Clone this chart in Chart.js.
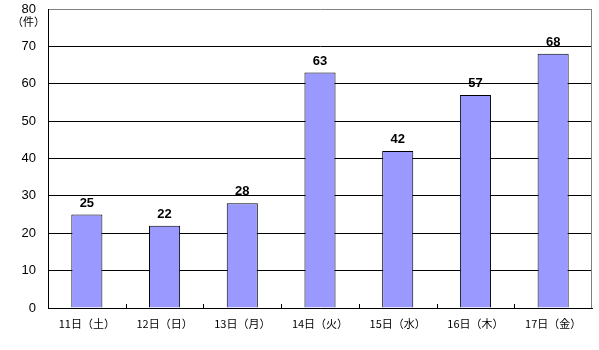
<!DOCTYPE html>
<html>
<head>
<meta charset="utf-8">
<script src="https://cdn.jsdelivr.net/npm/chart.js@4"></script>
<style>
  html, body { margin: 0; padding: 0; background: #fff; }
  #wrap { width: 599px; height: 350px; }
</style>
</head>
<body>
<div id="wrap"><canvas id="myChart" width="599" height="350"></canvas></div>
<script>
const days = ['11日（土）', '12日（日）', '13日（月）', '14日（火）', '15日（水）', '16日（木）', '17日（金）'];
const counts = [25, 22, 28, 63, 42, 57, 68];
const yMax = 80;
const yStep = 10;
const unitLabel = '（件）';

// labels over bars, inner ticks, right/top frame
const extras = {
  id: 'extras',
  afterDatasetsDraw(chart) {
    const ctx = chart.ctx;
    const area = chart.chartArea;
    const x = chart.scales.x;
    const y = chart.scales.y;
    ctx.save();
    // right border
    ctx.strokeStyle = '#808080';
    ctx.lineWidth = 1;
    ctx.beginPath();
    ctx.moveTo(Math.round(area.right) - 0.5, area.top);
    ctx.lineTo(Math.round(area.right) - 0.5, area.bottom);
    ctx.stroke();
    // small ticks between categories
    ctx.strokeStyle = '#000';
    for (let i = 0; i < days.length - 1; i++) {
      const px = Math.round((x.getPixelForValue(i) + x.getPixelForValue(i + 1)) / 2) + 0.5;
      ctx.beginPath();
      ctx.moveTo(px, area.bottom);
      ctx.lineTo(px, area.bottom - 4);
      ctx.stroke();
    }
    // value labels
    ctx.fillStyle = '#000';
    ctx.font = 'bold 13px "Liberation Sans", Arial, sans-serif';
    ctx.textAlign = 'center';
    ctx.textBaseline = 'bottom';
    const meta = chart.getDatasetMeta(0);
    meta.data.forEach((bar, i) => {
      ctx.fillText(String(counts[i]), bar.x, bar.y - 5);
    });
    // unit
    ctx.font = '11px "Noto Sans CJK JP", sans-serif';
    ctx.textAlign = 'right';
    ctx.textBaseline = 'middle';
    ctx.fillText(unitLabel, area.left - 3, y.getPixelForValue(yMax) + 13);
    ctx.restore();
  }
};

const ctx = document.getElementById('myChart').getContext('2d');
const myChart = new Chart(ctx, {
  type: 'bar',
  data: {
    labels: days,
    datasets: [{
      data: counts,
      backgroundColor: '#9999FF',
      borderColor: '#000',
      borderWidth: 1,
      borderSkipped: 'bottom',
      categoryPercentage: 1.0,
      barPercentage: 0.4
    }]
  },
  options: {
    responsive: false,
    animation: false,
    layout: { padding: { top: 9, right: 7, left: 0, bottom: 0 } },
    plugins: { legend: { display: false }, tooltip: { enabled: false } },
    scales: {
      x: {
        grid: { display: false, drawTicks: false },
        border: { display: true, color: '#000', width: 1 },
        ticks: {
          color: '#000',
          padding: 9,
          maxRotation: 0,
          autoSkip: false,
          font: { size: 11, family: '"Noto Sans CJK JP", sans-serif' }
        },
        afterFit(scale) { scale.height = 42; scale.paddingLeft = 0; scale.paddingRight = 0; }
      },
      y: {
        min: 0,
        max: yMax,
        ticks: {
          stepSize: yStep,
          color: '#000',
          padding: 12,
          font: { size: 13, family: '"Liberation Sans", Arial, sans-serif' }
        },
        grid: {
          drawTicks: false,
          color: c => (c.tick && c.tick.value === yMax ? '#808080' : '#000'),
          lineWidth: 1
        },
        border: { display: true, color: '#000', width: 1 },
        afterFit(scale) { scale.width = 48; scale.paddingTop = 0; scale.paddingBottom = 0; }
      }
    }
  },
  plugins: [extras]
});
</script>
</body>
</html>
